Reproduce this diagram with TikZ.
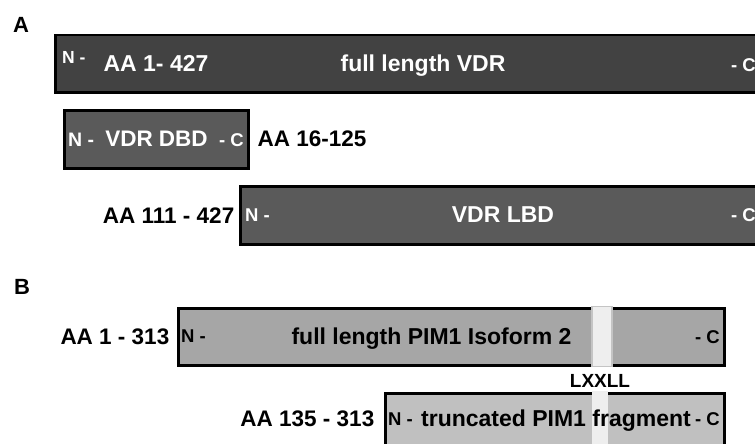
\documentclass[tikz,border=0pt]{standalone}
\usepackage{fontspec}
\setmainfont{Liberation Sans}
\usetikzlibrary{positioning}
\definecolor{vdrdark}{HTML}{424242}
\definecolor{vdrmid}{HTML}{5A5A5A}
\definecolor{pimfull}{HTML}{A6A6A6}
\definecolor{pimtrunc}{HTML}{C0C0C0}
\definecolor{motiffill}{HTML}{EEEEEE}
\definecolor{motifedge}{HTML}{C4C4C4}
\tikzstyle{protbox} = [rectangle, draw=black, line width=2.5pt, inner sep=0pt, anchor=north west]
\tikzstyle{motifbox} = [rectangle, fill=motiffill, inner sep=0pt, anchor=north west]
\tikzstyle{bigtext} = [inner sep=0pt, anchor=base, font=\fontsize{23}{23}\selectfont\bfseries]
\tikzstyle{endtag} = [inner sep=0pt, font=\fontsize{18.5}{18.5}\selectfont\bfseries]
\tikzstyle{aalabel} = [inner sep=0pt, font=\fontsize{22.5}{22.5}\selectfont\bfseries]
\tikzstyle{panel} = [inner sep=0pt, anchor=base west, font=\fontsize{22}{22}\selectfont\bfseries]
\begin{document}
\begin{tikzpicture}[x=1pt, y=-1pt]
\useasboundingbox (0,0) rectangle (755,444);

% A: VDR constructs
\node (panelA) [panel] at (13,33) {A};

\node (vdr) [protbox, fill=vdrdark, minimum width=736, minimum height=57] at (54,34) {};
\node (vdrN) [endtag, anchor=base west, text=white, font=\fontsize{17.5}{17.5}\selectfont\bfseries] at (62,63.5) {N -};
\node (vdrAA) [bigtext, text=white] at (156,72) {AA 1- 427};
\node (vdrname) [bigtext, text=white] at (423,72) {full length VDR};
\node (vdrC) [endtag, anchor=base west, text=white] at (731,71) {- C};

\node (dbd) [protbox, fill=vdrmid, minimum width=184, minimum height=58] at (63,109) {};
\node (dbdN) [endtag, anchor=base west, text=white, font=\fontsize{19.5}{19.5}\selectfont\bfseries] at (68,146) {N -};
\node (dbdname) [bigtext, text=white, font=\fontsize{22.5}{22.5}\selectfont\bfseries] at (156.5,146) {VDR DBD};
\node (dbdC) [endtag, anchor=base east, text=white] at (244,146) {- C};
\node (dbdAA) [aalabel, right=8pt of dbd] {AA 16-125};

\node (lbd) [protbox, fill=vdrmid, minimum width=551, minimum height=58] at (239,185) {};
\node (lbdN) [endtag, anchor=base west, text=white] at (245,221) {N -};
\node (lbdname) [bigtext, text=white] at (503,222) {VDR LBD};
\node (lbdC) [endtag, anchor=base west, text=white] at (731,221) {- C};
\node (lbdAA) [aalabel, left=4.5pt of lbd] {AA 111 - 427};

% B: PIM1 constructs
\node (panelB) [panel] at (14,294) {B};

\node (pim) [protbox, fill=pimfull, minimum width=546, minimum height=57] at (177,307) {};
\node (pimband) [motifbox, draw=motifedge, line width=1.5pt, minimum width=20, minimum height=60] at (591,305.5) {};
\node (pimN) [endtag, anchor=base west] at (181,342) {N -};
\node (pimname) [bigtext] at (431.5,344) {full length PIM1 Isoform 2};
\node (pimC) [endtag, anchor=base east] at (720,343) {- C};
\node (pimAA) [aalabel, left=7.5pt of pim] {AA 1 - 313};

\node (lxxll) [inner sep=0pt, anchor=base, font=\fontsize{19}{19}\selectfont\bfseries] at (600,387) {LXXLL};

\node (trunc) [protbox, fill=pimtrunc, minimum width=339, minimum height=90] at (384,392) {};
\node (truncband) [motifbox, minimum width=16, minimum height=95] at (592,390.5) {};
\node (truncN) [endtag, anchor=base west] at (388,425) {N -};
\node (truncname) [bigtext] at (556,426) {truncated PIM1 fragment};
\node (truncC) [endtag, anchor=base east] at (720,425) {- C};
\node (truncAA) [aalabel, left=9.5pt of trunc.north west, yshift=-27pt] {AA 135 - 313};

\end{tikzpicture}
\end{document}
